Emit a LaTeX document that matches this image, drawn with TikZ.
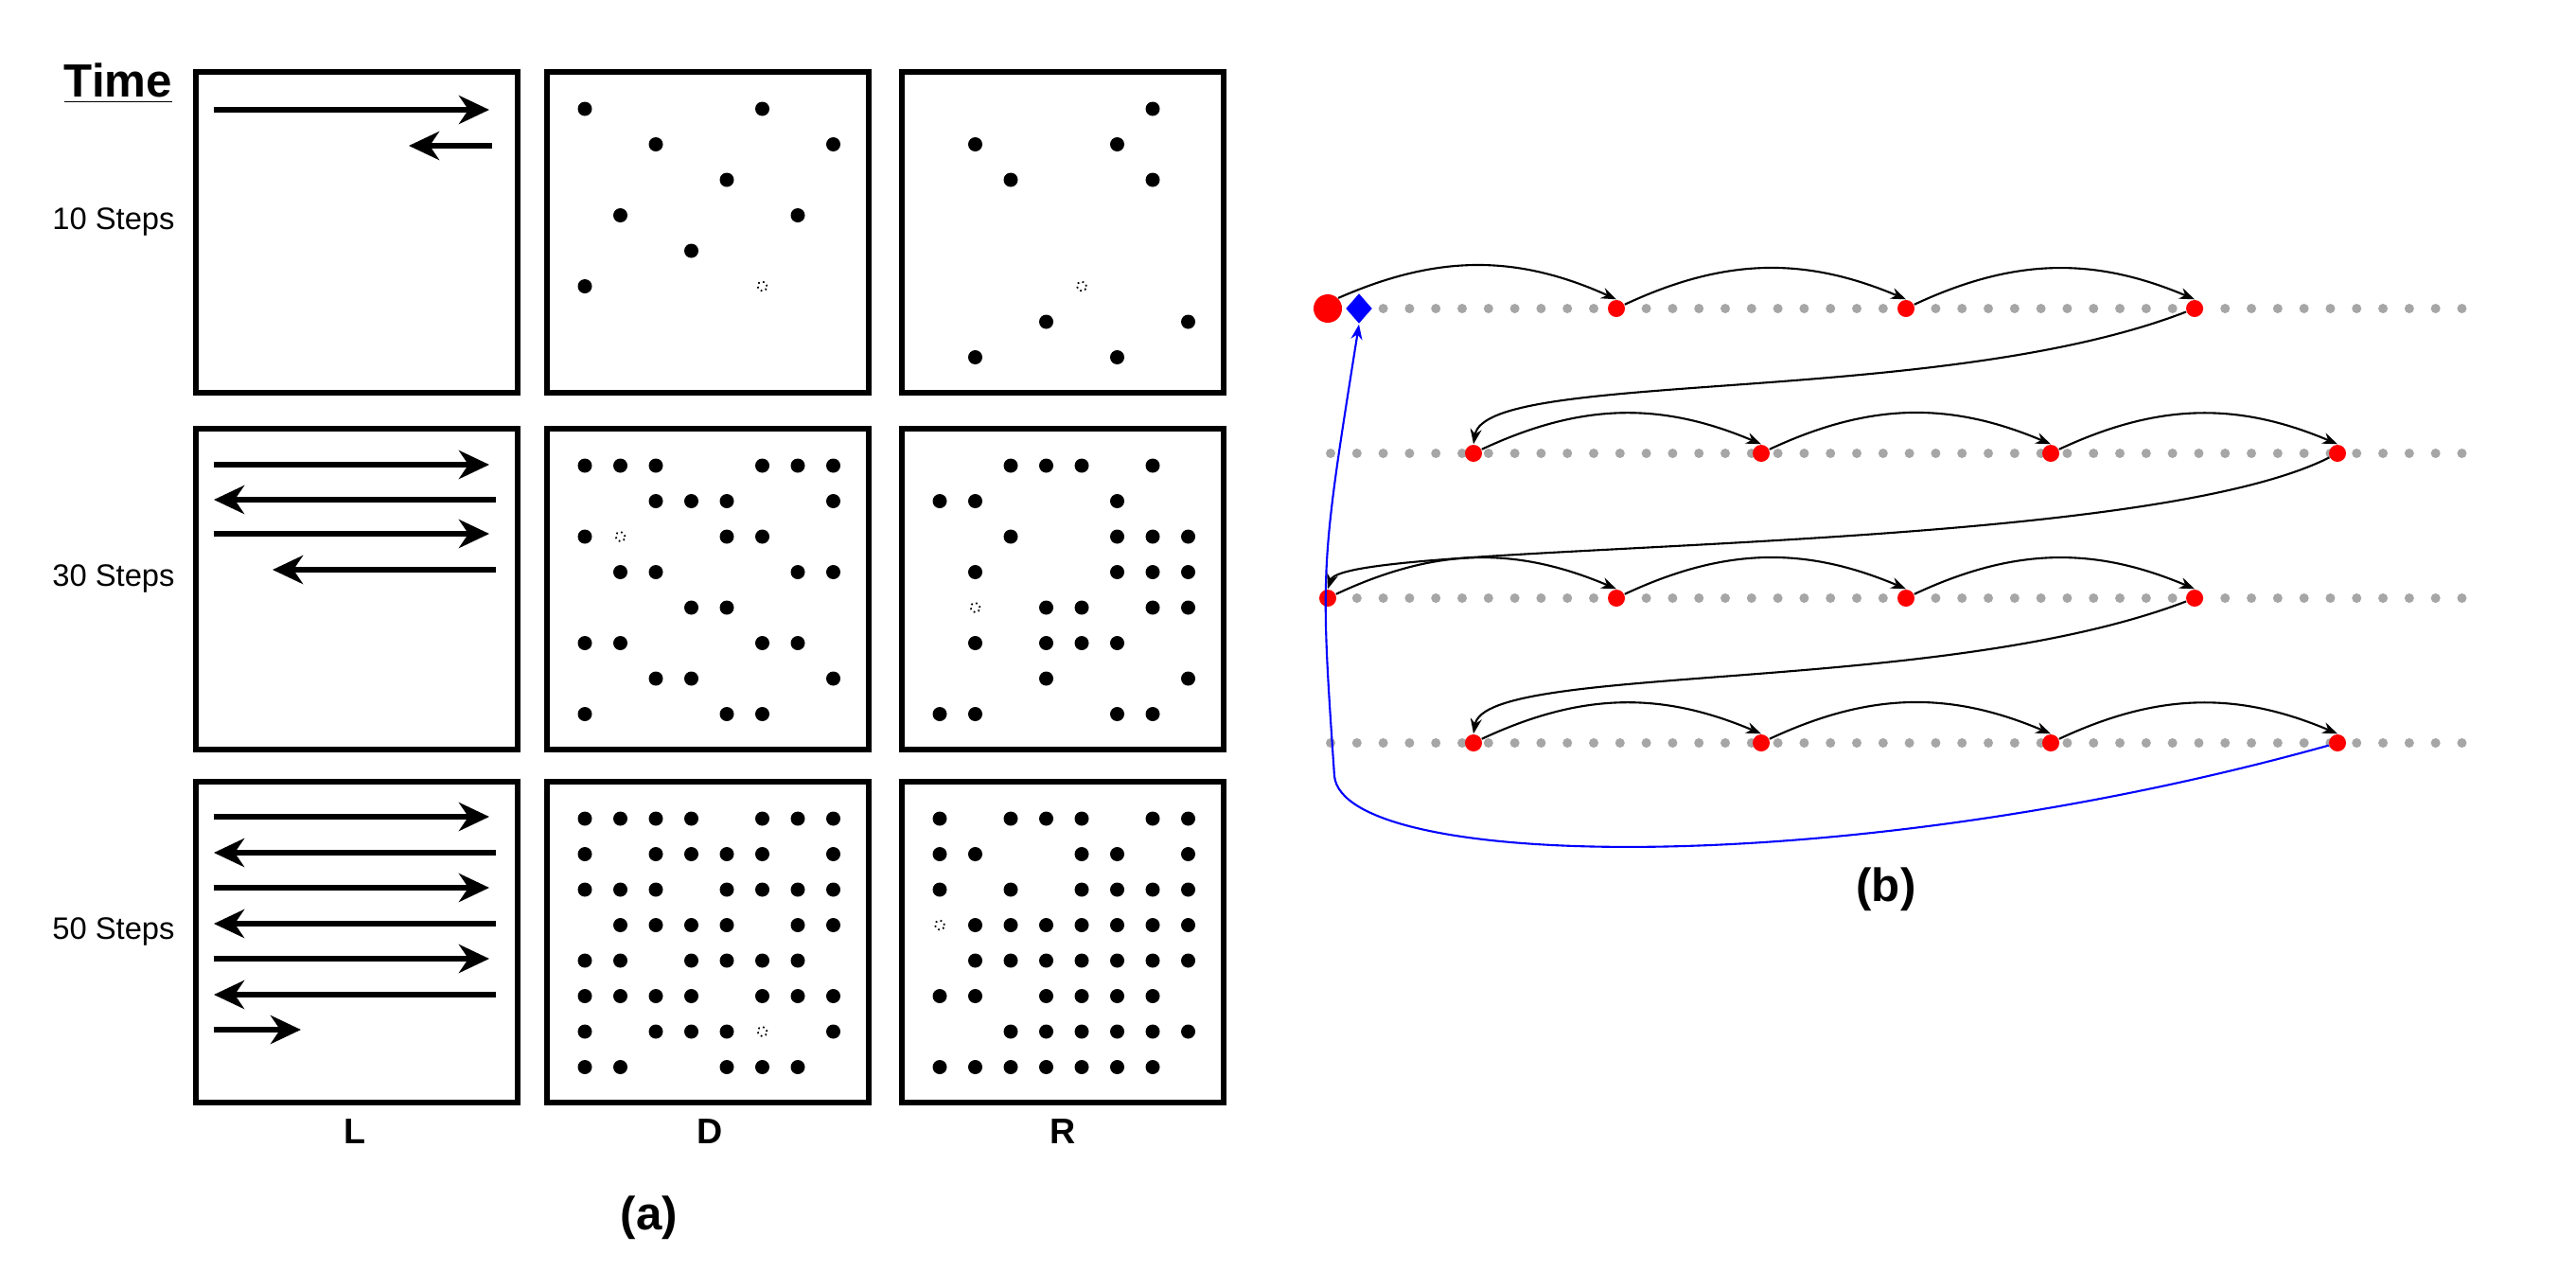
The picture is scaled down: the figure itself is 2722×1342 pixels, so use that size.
\documentclass[tikz,border=0pt]{standalone}
\usepackage{fontspec}
\setmainfont{Liberation Sans}
\usetikzlibrary{arrows.meta,shapes.geometric,positioning}
% one 8x8 occupancy panel: origin x, origin y, filled r/c, hollow r/c
\newcommand\occgrid[4]{%
  \foreach \r/\c in {#3}
    \fill ({#1+40+37.5*(\c-1)},{#2+39+37.5*(\r-1)}) circle[radius=0.075cm];
  \foreach \r/\c in {#4}
    \draw[densely dotted,line width=0.5pt] ({#1+40+37.5*(\c-1)},{#2+39+37.5*(\r-1)}) circle[radius=0.05cm];
}
\begin{document}
\begin{tikzpicture}[x=0.01cm,y=-0.01cm,
    every node/.style={font=\fontsize{9.3}{11}\selectfont},
    panel/.style={line width=1.5pt},
    sweep/.style={line width=1.7pt,-{Stealth[length=0.32cm,width=0.3cm,inset=0.1cm]}},
    cell/.style={circle,fill=red,inner sep=0pt,minimum size=0.18cm},
    hop/.style={-{Stealth[length=0.16cm,width=0.12cm]},line width=0.6pt,bend left=24},
    jump/.style={-{Stealth[length=0.16cm,width=0.12cm]},line width=0.6pt},
    lbl/.style={font=\fontsize{10.7}{12}\selectfont\bfseries}]
  \useasboundingbox (0,0) rectangle (2722,1342);

  % (a) labels
  \node (time) at (125,88) {\fontsize{14}{16}\selectfont\bfseries\underline{Time}};
  \node[anchor=east] (s10) at (197,234) {10 Steps};
  \node[anchor=east] (s30) at (197,611) {30 Steps};
  \node[anchor=east] (s50) at (197,984) {50 Steps};
  \node[lbl] (colL) at (375,1196) {L};
  \node[lbl] (colD) at (750,1196) {D};
  \node[lbl] (colR) at (1123,1196) {R};
  \node[font=\fontsize{14}{16}\selectfont\bfseries] (capa) at (686,1287) {(a)};

  % panels
  \foreach \x in {207,578,953}
    \foreach \y in {76,453,826}
      \draw[panel] (\x,\y) rectangle ++(340,339);

  % L column: sweeps
  \draw[sweep] (226,116) -- (517,116);
  \draw[sweep] (520,154) -- (432,154);
  \foreach \y in {491,564,863,938,1013}
    \draw[sweep] (226,\y) -- (517,\y);
  \foreach \y in {528,901,976,1051}
    \draw[sweep] (524,\y) -- (226,\y);
  \draw[sweep] (524,602) -- (288,602);
  \draw[sweep] (226,1088) -- (318,1088);

  % D and R columns
  \occgrid{578}{76}{1/1,1/6,2/3,2/8,3/5,4/2,4/7,5/4,6/1}{6/6}
  \occgrid{953}{76}{1/7,2/2,2/6,3/3,3/7,7/4,7/8,8/2,8/6}{6/5}
  \occgrid{578}{453}{1/1,1/2,1/3,1/6,1/7,1/8,2/3,2/4,2/5,2/8,3/1,3/5,3/6,4/2,4/3,4/7,4/8,5/4,5/5,6/1,6/2,6/6,6/7,7/3,7/4,7/8,8/1,8/5,8/6}{3/2}
  \occgrid{953}{453}{1/3,1/4,1/5,1/7,2/1,2/2,2/6,3/3,3/6,3/7,3/8,4/2,4/6,4/7,4/8,5/4,5/5,5/7,5/8,6/2,6/4,6/5,6/6,7/4,7/8,8/1,8/2,8/6,8/7}{5/2}
  \occgrid{578}{826}{1/1,1/2,1/3,1/4,1/6,1/7,1/8,2/1,2/3,2/4,2/5,2/6,2/8,3/1,3/2,3/3,3/5,3/6,3/7,3/8,4/2,4/3,4/4,4/5,4/7,4/8,5/1,5/2,5/4,5/5,5/6,5/7,6/1,6/2,6/3,6/4,6/6,6/7,6/8,7/1,7/3,7/4,7/5,7/8,8/1,8/2,8/5,8/6,8/7}{7/6}
  \occgrid{953}{826}{1/1,1/3,1/4,1/5,1/7,1/8,2/1,2/2,2/5,2/6,2/8,3/1,3/3,3/5,3/6,3/7,3/8,4/2,4/3,4/4,4/5,4/6,4/7,4/8,5/2,5/3,5/4,5/5,5/6,5/7,5/8,6/1,6/2,6/4,6/5,6/6,6/7,7/3,7/4,7/5,7/6,7/7,7/8,8/1,8/2,8/3,8/4,8/5,8/6,8/7}{4/1}

  % (b) grey tracks
  \foreach \y in {479,632,785}
    \foreach \i in {0,...,43}
      \fill[gray!70] ({1406+27.8*\i},\y) circle[radius=0.05cm];
  \foreach \i in {2,...,43}
    \fill[gray!70] ({1406+27.8*\i},326) circle[radius=0.05cm];

  % (b) visited cells
  \node[cell,minimum size=0.3cm] (st) at (1403,326) {};
  \node[diamond,fill=blue,inner sep=0pt,minimum width=0.28cm,minimum height=0.32cm] (dia) at (1436,326) {};
  \node[cell] (r12) at (1708,326) {};
  \node[cell] (r13) at (2014,326) {};
  \node[cell] (r14) at (2319,326) {};
  \node[cell] (r21) at (1557,479) {};
  \node[cell] (r22) at (1861,479) {};
  \node[cell] (r23) at (2167,479) {};
  \node[cell] (r24) at (2470,479) {};
  \node[cell] (r31) at (1403,632) {};
  \node[cell] (r32) at (1708,632) {};
  \node[cell] (r33) at (2014,632) {};
  \node[cell] (r34) at (2319,632) {};
  \node[cell] (r41) at (1557,785) {};
  \node[cell] (r42) at (1861,785) {};
  \node[cell] (r43) at (2167,785) {};
  \node[cell] (r44) at (2470,785) {};
  \node[font=\fontsize{14}{16}\selectfont\bfseries] (capb) at (1993,940) {(b)};

  \draw[hop] (st.north east) to (r12.north);
  \draw[hop] (r12) to (r13.north); \draw[hop] (r13) to (r14.north);
  \draw[hop] (r21) to (r22.north); \draw[hop] (r22) to (r23.north);
  \draw[hop] (r23) to (r24.north);
  \draw[hop] (r31) to (r32.north); \draw[hop] (r32) to (r33.north);
  \draw[hop] (r33) to (r34.north);
  \draw[hop] (r41) to (r42.north); \draw[hop] (r42) to (r43.north);
  \draw[hop] (r43) to (r44.north);
  \draw[jump] (r14) .. controls (2050,430) and (1570,390) .. (r21.north);
  \draw[jump] (r24) .. controls (2250,590) and (1420,570) .. (r31.north);
  \draw[jump] (r34) .. controls (2050,735) and (1570,700) .. (r41.north);
  \draw[jump,blue] (r44) .. controls (1950,930) and (1420,920) .. (1410,820)
    .. controls (1395,600) .. (dia.south);
\end{tikzpicture}
\end{document}
